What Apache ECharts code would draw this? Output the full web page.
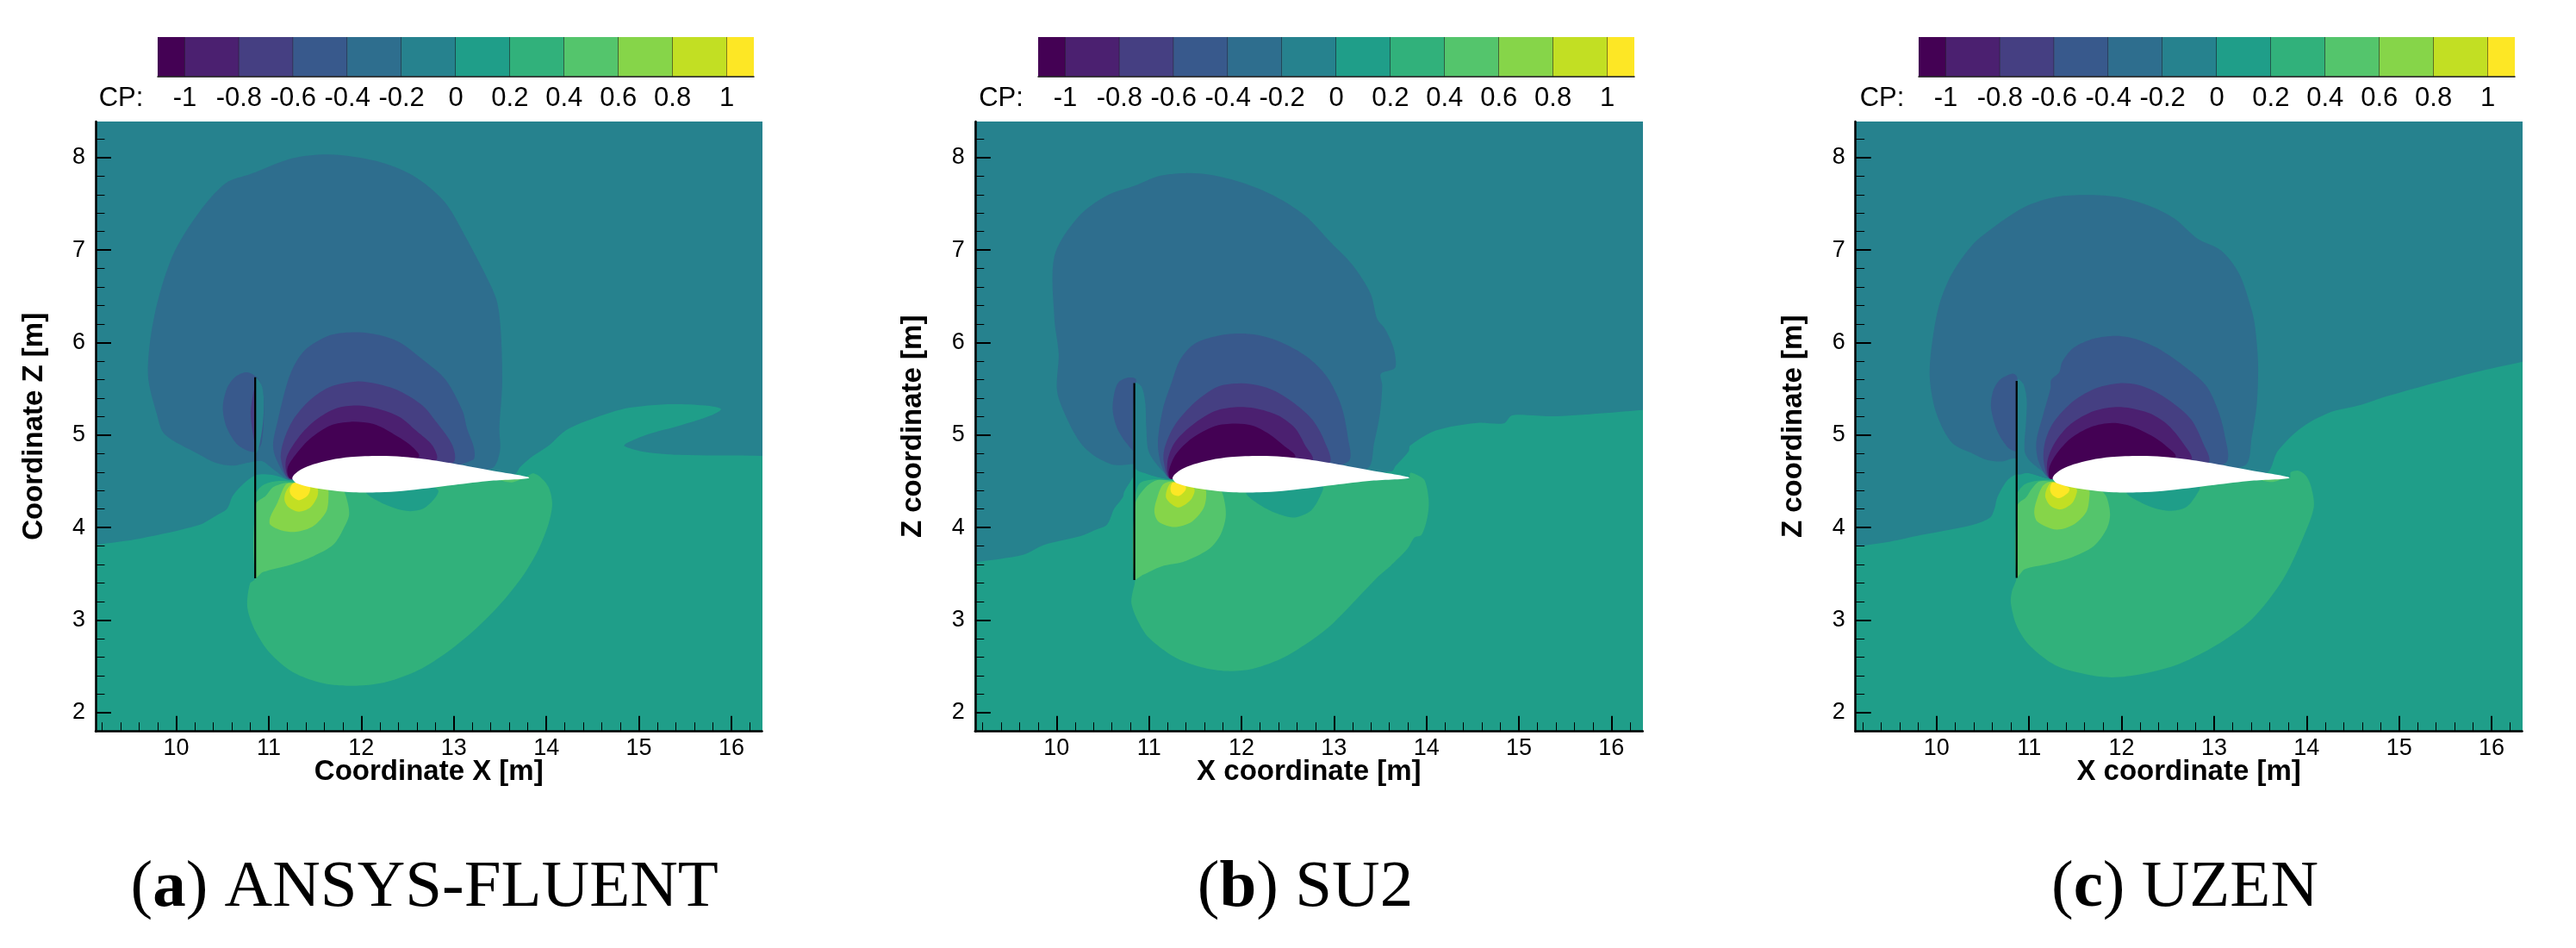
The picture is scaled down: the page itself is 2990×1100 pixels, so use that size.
<!DOCTYPE html>
<html><head><meta charset="utf-8"><style>html,body{margin:0;padding:0;background:#fff}#c{width:2990px;height:1100px}</style>
<script src="https://cdn.jsdelivr.net/npm/echarts@6/dist/echarts.min.js"></script></head>
<body><div id="c"></div>
<script>
// Colour scale
const cbLow  = [-1.1,-1,-0.8,-0.6,-0.4,-0.2,0,0.2,0.4,0.6,0.8,1];
const cbHigh = [-1,-0.8,-0.6,-0.4,-0.2,0,0.2,0.4,0.6,0.8,1,1.1];
const cbColors = ['#440154','#4b2070','#453f82','#38598c','#2e6e8e','#26828e','#1f9e89','#31b17b','#54c56c','#86d549','#c2df23','#fde725'];
const cbLabels = [-1,-0.8,-0.6,-0.4,-0.2,0,0.2,0.4,0.6,0.8,1];
const xMajor = [10,11,12,13,14,15,16];
const yMajor = [2,3,4,5,6,7,8];
const xMinor = [9.2,9.4,9.6,9.8,10.2,10.4,10.6,10.8,11.2,11.4,11.6,11.8,12.2,12.4,12.6,12.8,13.2,13.4,13.6,13.8,14.2,14.4,14.6,14.8,15.2,15.4,15.6,15.8,16.2];
const yMinor = [2.2,2.4,2.6,2.8,3.2,3.4,3.6,3.8,4.2,4.4,4.6,4.8,5.2,5.4,5.6,5.8,6.2,6.4,6.6,6.8,7.2,7.4,7.6,7.8,8.2];
const fullField = [[9,1.5],[16.6,1.5],[16.6,8.6],[9,8.6]];
const airfoil = [[11.255,4.529],[11.28,4.576],[11.357,4.632],[11.481,4.684],[11.667,4.731],[11.885,4.762],[12.195,4.774],[12.443,4.765],[12.692,4.74],[13.002,4.691],[13.406,4.616],[13.815,4.538],[13.406,4.507],[13.002,4.461],[12.443,4.395],[12.195,4.38],[11.916,4.38],[11.698,4.399],[11.45,4.436],[11.31,4.476]];

// (a) ANSYS-FLUENT
const aN02 = [[9,3.79],[9.13,3.812],[9.62,3.883],[10.243,4.026],[10.426,4.125],[10.55,4.203],[10.612,4.343],[10.721,4.467],[10.845,4.56],[10.954,4.576],[11.078,4.56],[11.239,4.513],[12,4.55],[13.654,4.576],[13.716,4.653],[13.84,4.762],[14.026,4.886],[14.193,5.039],[14.4,5.14],[14.786,5.272],[15.096,5.319],[15.378,5.334],[15.717,5.319],[15.886,5.281],[15.773,5.21],[15.435,5.101],[15.096,5.008],[14.87,4.914],[14.842,4.882],[15.04,4.822],[15.434,4.786],[16.343,4.775],[16.6,4.775],[16.6,8.6],[9,8.6]];
const aN04 = [[11.653,8.034],[11.258,7.994],[10.807,7.823],[10.536,7.723],[10.243,7.403],[9.96,6.936],[9.763,6.283],[9.695,5.661],[9.791,5.226],[9.876,5.007],[10.243,4.793],[10.426,4.7],[10.612,4.669],[10.767,4.7],[10.845,4.715],[10.938,4.715],[11.062,4.622],[11.239,4.513],[12.5,4.55],[13.406,4.638],[13.498,4.824],[13.492,5.073],[13.523,5.57],[13.505,6.16],[13.459,6.47],[13.318,6.781],[13.121,7.154],[12.895,7.527],[12.556,7.807],[12.161,7.963]];
const aN06 = [[11.947,6.113],[11.667,6.082],[11.419,5.943],[11.295,5.787],[11.202,5.57],[11.093,5.135],[11.047,4.886],[11.093,4.715],[11.233,4.529],[12.5,4.55],[13.204,4.731],[13.219,4.855],[13.142,5.073],[13.095,5.259],[12.909,5.601],[12.661,5.818],[12.412,6.005],[12.195,6.082]];
const aBlob = [[10.767,5.678],[10.643,5.632],[10.55,5.508],[10.504,5.29],[10.55,5.073],[10.674,4.886],[10.845,4.818],[10.923,4.917],[10.947,5.383],[10.892,5.601]];
const aSliver = [[10.861,5.616],[10.923,5.539],[10.947,5.383],[10.938,5.135],[10.892,4.855],[10.861,4.808]];
const aBlobCore = [[10.854,5.52],[10.805,5.228],[10.854,4.92]];
const aN08 = [[11.947,5.579],[11.667,5.523],[11.45,5.383],[11.264,5.166],[11.155,4.917],[11.134,4.731],[11.239,4.52],[12.5,4.55],[12.996,4.706],[12.986,4.886],[12.816,5.135],[12.661,5.321],[12.412,5.477],[12.164,5.554]];
const aN10 = [[11.947,5.321],[11.73,5.29],[11.512,5.166],[11.326,4.98],[11.186,4.731],[11.239,4.529],[12.3,4.55],[12.81,4.731],[12.769,4.886],[12.599,5.042],[12.412,5.197],[12.164,5.29]];
const aMin = [[11.885,5.144],[11.667,5.104],[11.45,4.964],[11.295,4.793],[11.202,4.638],[11.239,4.529],[12.2,4.55],[12.623,4.762],[12.536,4.886],[12.35,5.011],[12.133,5.119]];
const aP04 = [[11.26,4.5],[11.109,4.504],[10.954,4.467],[10.86,4.374],[10.854,4.25],[10.854,3.45],[10.798,3.395],[10.767,3.178],[10.79,3.045],[10.863,2.867],[11.005,2.653],[11.258,2.439],[11.597,2.314],[11.936,2.289],[12.274,2.331],[12.613,2.456],[12.951,2.67],[13.234,2.902],[13.516,3.188],[13.742,3.473],[13.911,3.758],[14.024,4.044],[14.063,4.258],[14.024,4.436],[13.939,4.543],[13.854,4.586],[13.77,4.543],[12.5,4.5]];
const aP06 = [[10.854,3.457],[10.938,3.519],[11.233,3.597],[11.481,3.69],[11.698,3.815],[11.807,3.985],[11.869,4.141],[11.838,4.327],[11.792,4.42],[11.6,4.5],[11.264,4.482],[11.171,4.482],[11.047,4.436],[10.969,4.343],[10.86,4.25]];
const aP08 = [[11.28,4.482],[11.186,4.467],[11.093,4.265],[11.016,4.11],[11.016,4.032],[11.14,3.97],[11.295,3.954],[11.481,4.016],[11.621,4.172],[11.646,4.327],[11.63,4.42]];
const aP10 = [[11.27,4.482],[11.186,4.389],[11.171,4.296],[11.217,4.218],[11.326,4.172],[11.45,4.218],[11.528,4.343],[11.518,4.436]];
const aMax = [[11.27,4.482],[11.227,4.405],[11.248,4.343],[11.326,4.296],[11.419,4.343],[11.45,4.42],[11.435,4.458]];
const aPocket = [[12.055,4.389],[12.257,4.25],[12.505,4.178],[12.692,4.218],[12.831,4.405],[12.5,4.5]];
const aPatch = [[13.483,4.52],[13.623,4.489],[13.747,4.538]];
const aPlate = [[10.854,3.451],[10.854,5.626]];

// (b) SU2
const bN02 = [[9,3.6],[9.119,3.623],[9.638,3.705],[9.864,3.812],[10.26,3.908],[10.406,3.97],[10.546,4.032],[10.623,4.203],[10.717,4.327],[10.732,4.389],[10.825,4.544],[10.847,4.653],[10.996,4.575],[11.239,4.526],[12.5,4.55],[13.622,4.606],[13.669,4.669],[13.808,4.824],[13.824,4.886],[14.102,5.05],[14.554,5.132],[14.836,5.126],[14.921,5.21],[15.09,5.216],[15.401,5.204],[15.966,5.241],[16.35,5.272],[16.6,5.28],[16.6,8.6],[9,8.6]];
const bN04 = [[11.39,7.832],[11.107,7.801],[10.853,7.698],[10.542,7.589],[10.232,7.356],[9.977,6.936],[9.977,6.252],[10.023,5.879],[10.006,5.474],[10.119,5.163],[10.26,4.914],[10.406,4.777],[10.592,4.684],[10.701,4.675],[10.841,4.684],[10.996,4.6],[11.239,4.526],[12.5,4.55],[13.358,4.638],[13.435,4.917],[13.497,5.228],[13.522,5.539],[13.507,5.663],[13.659,5.725],[13.659,5.88],[13.622,6.005],[13.544,6.16],[13.469,6.252],[13.395,6.532],[13.198,6.843],[12.972,7.076],[12.689,7.372],[12.35,7.589],[12.011,7.729],[11.672,7.813]];
const bBlob = [[10.779,5.622],[10.67,5.57],[10.623,5.445],[10.608,5.259],[10.67,5.042],[10.825,4.83],[10.86,4.83],[10.86,5.6]];
const bSliver = [[10.847,5.563],[10.919,5.523],[10.959,5.352],[10.971,5.073],[10.996,4.824],[11.121,4.638],[11.239,4.526],[10.996,4.575],[10.847,4.653]];
const bN06 = [[11.96,6.098],[11.742,6.073],[11.494,5.989],[11.338,5.818],[11.245,5.57],[11.152,5.29],[11.096,4.917],[11.136,4.669],[11.239,4.526],[12.5,4.55],[13.156,4.715],[13.15,4.979],[13.078,5.321],[12.923,5.632],[12.705,5.849],[12.426,6.005],[12.177,6.082]];
const bN08 = [[11.99,5.56],[11.742,5.523],[11.494,5.352],[11.276,5.104],[11.167,4.855],[11.161,4.7],[11.239,4.526],[12.5,4.55],[12.954,4.7],[12.892,4.948],[12.767,5.166],[12.581,5.337],[12.363,5.476],[12.177,5.539]];
const bN10 = [[11.928,5.302],[11.711,5.259],[11.462,5.104],[11.276,4.917],[11.198,4.7],[11.239,4.526],[12.3,4.55],[12.767,4.731],[12.69,4.886],[12.581,5.073],[12.395,5.212],[12.146,5.29]];
const bMin = [[11.928,5.125],[11.711,5.097],[11.462,4.964],[11.291,4.793],[11.214,4.606],[11.239,4.526],[12.2,4.55],[12.581,4.762],[12.457,4.886],[12.301,5.011],[12.115,5.104]];
const bP04 = [[11.25,4.51],[11.058,4.52],[10.903,4.482],[10.857,4.373],[10.85,4.25],[10.85,3.43],[10.816,3.27],[10.81,3.177],[10.87,3.009],[10.994,2.813],[11.277,2.599],[11.559,2.492],[11.842,2.449],[12.124,2.474],[12.463,2.599],[12.802,2.813],[13.016,2.991],[13.48,3.473],[13.606,3.581],[13.793,3.768],[13.87,3.892],[13.948,3.923],[14.01,4.109],[14.025,4.296],[13.979,4.513],[13.886,4.575],[13.824,4.591],[13.81,4.53],[12.5,4.5]];
const bP06 = [[10.841,3.441],[10.934,3.488],[11.136,3.581],[11.369,3.628],[11.649,3.768],[11.773,3.923],[11.829,4.109],[11.82,4.265],[11.773,4.405],[11.6,4.5],[11.251,4.507],[11.09,4.513],[10.965,4.436],[10.85,4.25]];
const bP08 = [[11.251,4.498],[11.152,4.467],[11.09,4.327],[11.058,4.172],[11.105,4.063],[11.276,4.007],[11.462,4.063],[11.587,4.203],[11.618,4.327],[11.602,4.42]];
const bP10 = [[11.251,4.49],[11.198,4.42],[11.183,4.327],[11.229,4.265],[11.322,4.218],[11.447,4.296],[11.493,4.389],[11.478,4.436]];
const bMax = [[11.26,4.488],[11.232,4.42],[11.251,4.364],[11.322,4.342],[11.394,4.405],[11.394,4.451]];
const bPocket = [[12.053,4.383],[12.27,4.203],[12.55,4.109],[12.736,4.172],[12.829,4.296],[12.876,4.451],[12.5,4.5]];
const bPlate = [[10.841,3.432],[10.841,5.563]];

// (c) UZEN
const cN02 = [[9,3.77],[9.123,3.794],[9.497,3.848],[9.832,3.919],[10.391,4.03],[10.579,4.109],[10.626,4.203],[10.657,4.327],[10.766,4.513],[10.859,4.575],[10.983,4.591],[11.232,4.529],[12.5,4.55],[13.562,4.591],[13.686,4.824],[13.935,5.073],[14.246,5.243],[14.587,5.327],[14.86,5.418],[15.81,5.677],[16.34,5.795],[16.6,5.85],[16.6,8.6],[9,8.6]];
const cN04 = [[11.62,7.596],[11.285,7.574],[10.95,7.465],[10.615,7.247],[10.391,7.061],[10.168,6.75],[10.028,6.407],[9.944,5.941],[9.927,5.599],[10,5.226],[10.168,4.914],[10.393,4.799],[10.548,4.731],[10.704,4.715],[10.859,4.746],[10.983,4.62],[11.232,4.529],[12.5,4.55],[13.329,4.669],[13.407,4.979],[13.463,5.352],[13.475,5.787],[13.444,6.16],[13.408,6.345],[13.268,6.75],[13.073,6.998],[12.821,7.123],[12.57,7.341],[12.291,7.481],[11.955,7.574]];
const cBlob = [[10.812,5.663],[10.688,5.601],[10.61,5.476],[10.589,5.29],[10.657,5.042],[10.766,4.871],[10.853,4.824],[10.875,4.85],[10.875,5.6],[10.859,5.647]];
const cSliver = [[10.875,5.6],[10.937,5.554],[10.974,5.383],[10.968,5.166],[10.952,4.824],[11.014,4.715],[11.238,4.529],[10.983,4.591],[10.875,4.582]];
const cN06 = [[11.947,6.073],[11.698,6.042],[11.48,5.943],[11.356,5.787],[11.325,5.678],[11.238,5.595],[11.232,5.508],[11.154,5.228],[11.077,4.917],[11.108,4.7],[11.238,4.526],[12.5,4.55],[13.127,4.7],[13.112,5.011],[13.034,5.29],[12.91,5.539],[12.661,5.756],[12.382,5.943],[12.164,6.036]];
const cN08 = [[11.977,5.56],[11.729,5.508],[11.48,5.368],[11.263,5.135],[11.17,4.917],[11.16,4.7],[11.238,4.526],[12.5,4.55],[12.941,4.706],[12.879,4.917],[12.754,5.166],[12.568,5.337],[12.35,5.476],[12.164,5.545]];
const cN10 = [[11.915,5.302],[11.698,5.259],[11.449,5.119],[11.278,4.917],[11.195,4.7],[11.238,4.526],[12.3,4.55],[12.754,4.731],[12.661,4.917],[12.506,5.104],[12.319,5.228],[12.102,5.29]];
const cMin = [[11.9,5.132],[11.667,5.088],[11.449,4.964],[11.294,4.793],[11.216,4.638],[11.238,4.526],[12.2,4.55],[12.583,4.762],[12.475,4.886],[12.319,4.995],[12.102,5.097]];
const cP04 = [[11.232,4.513],[11.077,4.504],[10.952,4.467],[10.875,4.373],[10.875,4.24],[10.865,3.46],[10.812,3.302],[10.803,3.177],[10.866,2.938],[11.006,2.724],[11.285,2.51],[11.62,2.413],[11.899,2.381],[12.235,2.42],[12.626,2.528],[13.017,2.724],[13.408,3.009],[13.743,3.437],[13.966,3.901],[14.078,4.222],[14.05,4.436],[13.994,4.561],[13.911,4.615],[13.827,4.597],[13.816,4.536],[12.5,4.5]];
const cP06 = [[10.865,3.463],[10.952,3.55],[11.201,3.606],[11.449,3.674],[11.698,3.799],[11.838,3.985],[11.875,4.14],[11.838,4.327],[11.776,4.405],[11.6,4.5],[11.238,4.498],[11.108,4.498],[11.03,4.42],[10.968,4.327],[10.875,4.24]];
const cP08 = [[11.247,4.498],[11.154,4.457],[11.092,4.327],[11.055,4.172],[11.092,4.063],[11.294,3.979],[11.48,4.032],[11.62,4.172],[11.651,4.327],[11.642,4.405]];
const cP10 = [[11.247,4.49],[11.185,4.405],[11.176,4.327],[11.232,4.234],[11.341,4.196],[11.465,4.265],[11.518,4.389],[11.505,4.426]];
const cMax = [[11.257,4.488],[11.226,4.42],[11.247,4.358],[11.325,4.318],[11.418,4.373],[11.434,4.426]];
const cPocket = [[12.055,4.383],[12.288,4.234],[12.506,4.181],[12.692,4.218],[12.801,4.342],[12.841,4.445],[12.5,4.5]];
const cPatch = [[13.515,4.513],[13.624,4.492],[13.733,4.529]];
const cPlate = [[10.865,3.457],[10.865,5.585]];

const C = {n02:'#26828e',n04:'#2e6e8e',n06:'#38598c',n08:'#453f82',n10:'#4b2070',min:'#440154',base:'#1f9e89',p04:'#31b17b',p06:'#54c56c',p08:'#86d549',p10:'#c2df23',max:'#fde725',white:'#ffffff'};
const layersA = [[C.base,fullField,0],[C.n02,aN02],[C.n04,aN04],[C.n06,aBlob],[C.n08,aBlobCore],[C.n02,aSliver],[C.n06,aN06],[C.n08,aN08],[C.n10,aN10],[C.min,aMin],[C.p04,aP04],[C.p06,aP06],[C.p08,aP08],[C.p10,aP10],[C.max,aMax],[C.base,aPocket],[C.p06,aPatch],[C.white,airfoil]];
const layersB = [[C.base,fullField,0],[C.n02,bN02],[C.n04,bN04],[C.n06,bBlob],[C.n02,bSliver],[C.n06,bN06],[C.n08,bN08],[C.n10,bN10],[C.min,bMin],[C.p04,bP04],[C.p06,bP06],[C.p08,bP08],[C.p10,bP10],[C.max,bMax],[C.base,bPocket],[C.white,airfoil]];
const layersC = [[C.base,fullField,0],[C.n02,cN02],[C.n04,cN04],[C.n06,cBlob],[C.n02,cSliver],[C.n06,cN06],[C.n08,cN08],[C.n10,cN10],[C.min,cMin],[C.p04,cP04],[C.p06,cP06],[C.p08,cP08],[C.p10,cP10],[C.max,cMax],[C.base,cPocket],[C.p06,cPatch],[C.white,airfoil]];

const FONT = '"Liberation Sans", Arial, sans-serif';
const panels = [
 {layers:layersA,plate:aPlate,left:111,width:773.5,xMin:9.13,xMax:16.33,cbLeft:183,cp:140.5,xName:'Coordinate X [m]',yName:'Coordinate Z [m]',capRich:'({b|a}) ANSYS-FLUENT',capX:492.7},
 {layers:layersB,plate:bPlate,left:1131.8,width:775,xMin:9.119,xMax:16.34,cbLeft:1205,cp:1162,xName:'X coordinate [m]',yName:'Z coordinate [m]',capRich:'({b|b}) SU2',capX:1515},
 {layers:layersC,plate:cPlate,left:2153.7,width:773.8,xMin:9.123,xMax:16.33,cbLeft:2227,cp:2184.5,xName:'X coordinate [m]',yName:'Z coordinate [m]',capRich:'({b|c}) UZEN',capX:2536}
];
const yMin=1.796, yMax=8.39, plotTop=141, plotH=707.7, cbTop=43, cbH=45.7, cbW=692;

const grid=[], xAxis=[], yAxis=[], series=[], graphic=[];
const tickAxis=(vals,len,w)=>({show:true,inside:true,length:len,customValues:vals,lineStyle:{color:'#000',width:w}});
panels.forEach((p,i)=>{
  grid[i]={left:p.left,top:plotTop,width:p.width,height:plotH,containLabel:false};
  xAxis.push({type:'value',gridIndex:i,position:'bottom',min:p.xMin,max:p.xMax,z:10,
    name:p.xName,nameLocation:'middle',nameGap:31,nameMoveOverlap:false,nameTextStyle:{fontFamily:FONT,fontWeight:'bold',fontSize:33,color:'#000'},
    axisLine:{show:true,onZero:false,lineStyle:{color:'#000',width:2.5}},splitLine:{show:false},
    axisTick:tickAxis(xMajor,18,2),axisLabel:{show:true,customValues:xMajor,margin:6,fontFamily:FONT,fontSize:27,color:'#000',hideOverlap:false}});
  xAxis.push({type:'value',gridIndex:i,position:'bottom',min:p.xMin,max:p.xMax,z:10,
    axisLine:{show:false,onZero:false},splitLine:{show:false},axisTick:tickAxis(xMinor,10.5,1),axisLabel:{show:false}});
  yAxis.push({type:'value',gridIndex:i,position:'left',min:yMin,max:yMax,z:10,
    name:p.yName,nameLocation:'middle',nameRotate:90,nameGap:55,nameMoveOverlap:false,nameTextStyle:{fontFamily:FONT,fontWeight:'bold',fontSize:33,color:'#000'},
    axisLine:{show:true,onZero:false,lineStyle:{color:'#000',width:2.5}},splitLine:{show:false},
    axisTick:tickAxis(yMajor,18,2),axisLabel:{show:true,customValues:yMajor,margin:12,fontFamily:FONT,fontSize:27,color:'#000',hideOverlap:false}});
  yAxis.push({type:'value',gridIndex:i,position:'left',min:yMin,max:yMax,z:10,
    axisLine:{show:false,onZero:false},splitLine:{show:false},axisTick:tickAxis(yMinor,10.5,1),axisLabel:{show:false}});
});
panels.forEach((p,i)=>{
  const g=3+i;
  grid[g]={left:p.cbLeft,top:cbTop,width:cbW,height:cbH,containLabel:false};
  xAxis.push({type:'value',gridIndex:g,position:'bottom',min:-1.1,max:1.1,z:10,
    axisLine:{show:true,onZero:false,lineStyle:{color:'#111',width:1.5}},splitLine:{show:false},axisTick:{show:false},
    axisLabel:{show:true,customValues:cbLabels,margin:10,fontFamily:FONT,fontSize:31,color:'#000',hideOverlap:false}});
  yAxis.push({type:'value',gridIndex:g,show:false,min:0,max:1,splitLine:{show:false}});
});
panels.forEach((p,i)=>{
  const layers=p.layers;
  series.push({type:'custom',name:'CP contours '+i,coordinateSystem:'cartesian2d',xAxisIndex:2*i,yAxisIndex:2*i,clip:true,silent:true,animation:false,
    data:layers.map((l,k)=>[k]),
    renderItem:(params,api)=>{
      const l=layers[params.dataIndex];
      return {type:'polygon',shape:{points:l[1].map(q=>api.coord(q)),smooth:l[2]===0?0:0.3},style:{fill:l[0]}};
    }});
  series.push({type:'line',name:'Plate '+i,xAxisIndex:2*i,yAxisIndex:2*i,data:p.plate,showSymbol:false,silent:true,animation:false,lineStyle:{color:'#000',width:2.2}});
  series.push({type:'custom',name:'CP scale '+i,coordinateSystem:'cartesian2d',xAxisIndex:6+i,yAxisIndex:6+i,silent:true,animation:false,clip:false,
    data:cbLow.map((v,k)=>[v,cbHigh[k]]),
    renderItem:(params,api)=>{
      const a=api.coord([api.value(0),1]), b=api.coord([api.value(1),0]);
      const kids=[{type:'rect',shape:{x:a[0],y:a[1],width:b[0]-a[0],height:b[1]-a[1]},style:{fill:cbColors[params.dataIndex]}}];
      if(params.dataIndex<cbLow.length-1) kids.push({type:'line',shape:{x1:b[0],y1:a[1],x2:b[0],y2:b[1]},style:{stroke:'#111',lineWidth:1}});
      return {type:'group',children:kids};
    }});
  graphic.push({type:'text',x:p.cp,y:114,style:{text:'CP:',font:'31px '+FONT,fill:'#000',align:'center',verticalAlign:'middle'}});
  graphic.push({type:'text',x:p.capX,y:1031,style:{text:p.capRich,font:'77px "Liberation Serif", serif',fill:'#000',align:'center',verticalAlign:'middle',rich:{b:{font:'bold 77px "Liberation Serif", serif',fill:'#000'}}}});
});
const chart=echarts.init(document.getElementById('c'),null,{renderer:'canvas',width:2990,height:1100});
chart.setOption({animation:false,backgroundColor:'#fff',grid,xAxis,yAxis,series,graphic});
</script></body></html>
